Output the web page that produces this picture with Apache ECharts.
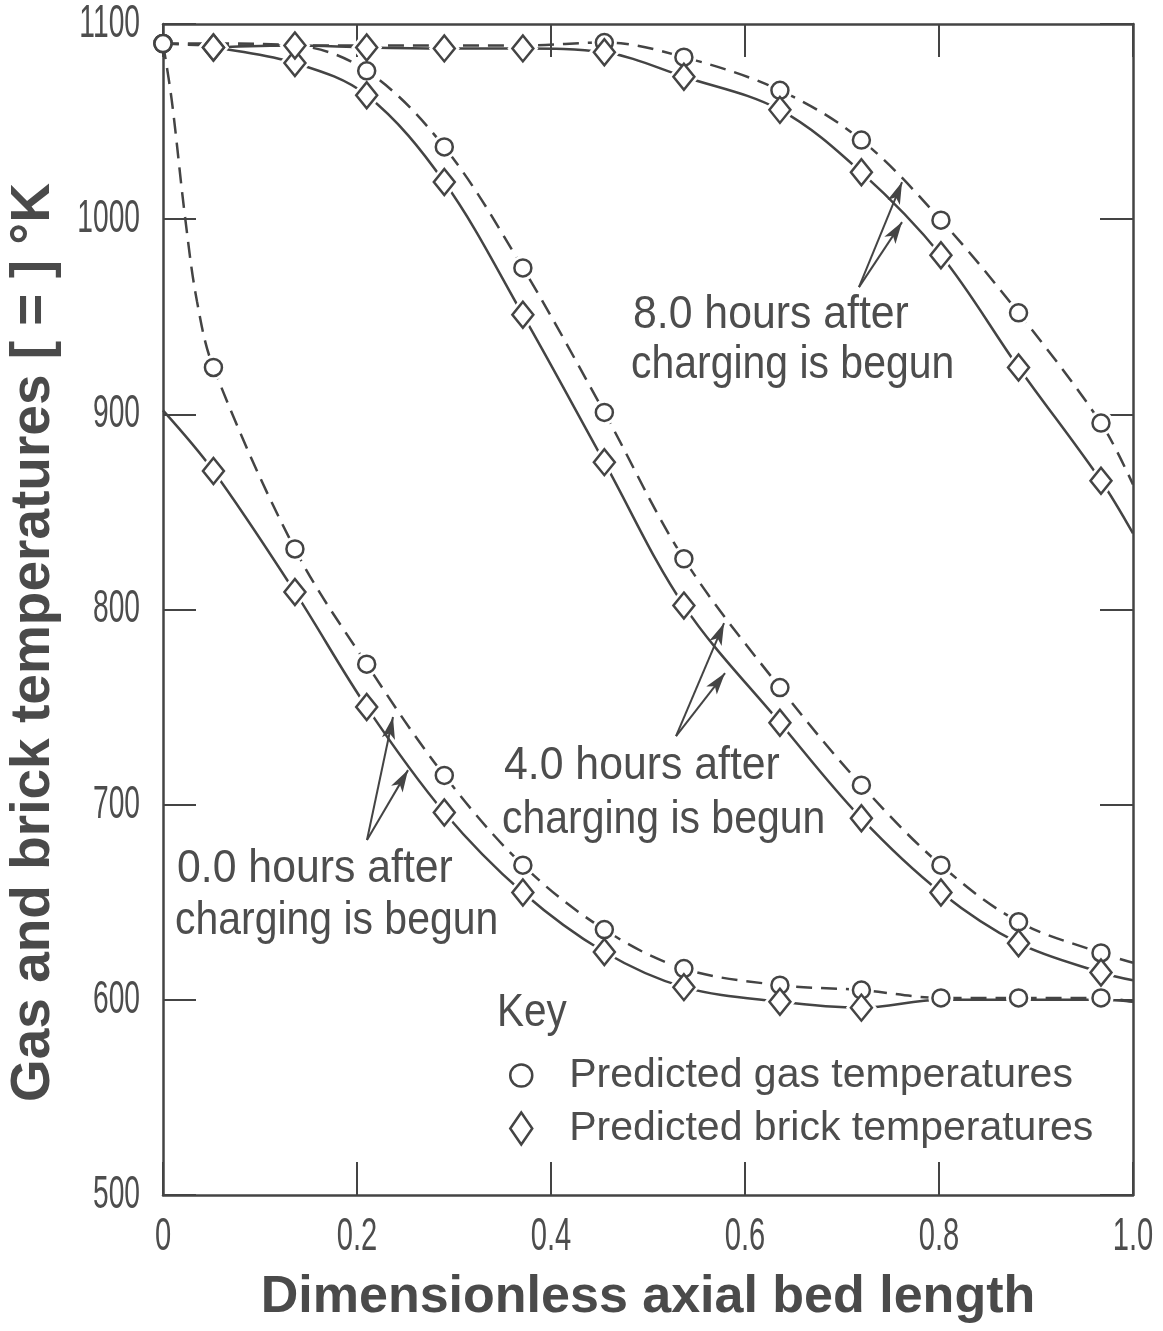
<!DOCTYPE html>
<html>
<head>
<meta charset="utf-8">
<title>Gas and brick temperatures along the bed</title>
<script src="https://cdn.jsdelivr.net/npm/echarts@6/dist/echarts.min.js"></script>
<style>
  html, body { margin: 0; padding: 0; background: #fff; }
  #chart { width: 1163px; height: 1331px; }
</style>
</head>
<body>
<div id="chart"></div>
<script>
// Axial stations along the bed (dimensionless length) where temperatures were predicted
const stations = [0, 0.052, 0.136, 0.210, 0.290, 0.371, 0.455, 0.537, 0.636, 0.720, 0.802, 0.882, 0.967];

// Predicted gas temperatures (K) at the stations
const gas0h = [1090, 924, 831, 772, 715, 669, 636, 616, 607.5, 605, 601, 601, 601];
const gas4h = [1090, 1090, 1089, 1076, 1037, 975, 901, 826, 760, 710, 669, 640, 624];
const gas8h = [1090, 1089, 1089, 1089, 1089, 1089, 1090.5, 1083, 1066, 1040.5, 999.5, 952, 895.5];

// Predicted brick temperatures (K) at the stations (null: no value there)
const brick0h = [902, 871, 809, 750, 696, 655, 624.5, 606.5, 599, 596, 600, 600, 600];
const brick4h = [null, 1088, 1080, 1063.5, 1019, 951, 875.5, 802, 742, 693, 655, 629, 614];
const brick8h = [null, 1088, 1089, 1088, 1087.5, 1087.5, 1085.5, 1073, 1056, 1024, 981.5, 924, 866];

// Temperatures where each curve leaves the bed (x = 1.0), for 0, 4 and 8 hours
const outletGas = [599, 619, 864];
const outletBrick = [599, 610, 839];

// Extra readings of the 0 h gas curve right at the inlet
const inletX = [0.009, 0.023, 0.035];
const inletGas0h = [1061, 1000, 958];

// Tick labels
const xTickLabels = ['0', '0.2', '0.4', '0.6', '0.8', '1.0'];
const yTickLabels = ['500', '600', '700', '800', '900', '1000', '1100'];

// Curve captions
const captionLine1 = ['0.0 hours after', '4.0 hours after', '8.0 hours after'];
const captionLine2 = 'charging is begun';

const GAS_NAME = 'Predicted gas temperatures';
const BRICK_NAME = 'Predicted brick temperatures';

const SANS = "'Liberation Sans', Arial, sans-serif";
const INK = '#444';
const TEXT_INK = '#4d4d4d';
const TITLE_INK = '#4a4a4a';

// Per-curve drawing setup: stations whose symbol sits under a coincident symbol,
// caption placement (px) and arrow tail / tips in data coordinates
const curves = [
  { gas: gas0h, brick: brick0h, hideGas: [], hideBrick: [0, 10, 11, 12],
    caption: { x: 177, y: 869, y2: 921 },
    tail: [0.2103, 681.9], heads: [[0.2371, 744.9], [0.2526, 717.7]] },
  { gas: gas4h, brick: brick4h, hideGas: [1, 2], hideBrick: [],
    caption: { x: 504, y: 766, y2: 820 },
    tail: [0.5289, 735.1], heads: [[0.5784, 793.0], [0.5794, 767.4]] },
  { gas: gas8h, brick: brick8h, hideGas: [1, 2, 3, 4, 5], hideBrick: [],
    caption: { x: 633, y: 315, y2: 365 },
    tail: [0.7175, 965.2], heads: [[0.7619, 1019.0], [0.7619, 998.5]] }
];

function pairs(xs, ys, skip) {
  const out = [];
  xs.forEach((x, i) => {
    if (ys[i] == null) return;
    if (skip && skip.indexOf(i) >= 0) return;
    out.push([x, ys[i]]);
  });
  return out;
}

const CIRCLE = 17;
const DIAMOND = [21, 26];

const curveSeries = [];
const haloSeries = [];
const markerSeries = [];

curves.forEach((c, i) => {
  let gasLine = pairs(stations, c.gas);
  if (i === 0) gasLine = gasLine.concat(pairs(inletX, inletGas0h)).sort((a, b) => a[0] - b[0]);
  gasLine.push([1, outletGas[i]]);
  const brickLine = pairs(stations, c.brick);
  brickLine.push([1, outletBrick[i]]);

  curveSeries.push({
    type: 'line', name: 'gas curve ' + i, data: gasLine,
    symbol: 'none', smooth: 0.35, silent: true, z: 2,
    lineStyle: { color: INK, width: 2.5, type: [16, 9] },
    markLine: {
      silent: true, animation: false,
      symbol: ['none', 'arrow'],
      label: { show: false },
      emphasis: { disabled: true },
      lineStyle: { color: INK, width: 2, type: 'solid' },
      data: c.heads.map(h => [
        { coord: c.tail, symbol: 'none' },
        { coord: h, symbol: 'arrow', symbolSize: [10, 22] }
      ])
    }
  });
  curveSeries.push({
    type: 'line', name: 'brick curve ' + i, data: brickLine,
    symbol: 'none', smooth: 0.35, silent: true, z: 2,
    lineStyle: { color: INK, width: 2.5, type: 'solid' }
  });

  const gasPts = pairs(stations, c.gas, c.hideGas);
  const brickPts = pairs(stations, c.brick, c.hideBrick);

  // white backing that opens a small gap where the curves meet a symbol
  haloSeries.push({
    type: 'scatter', name: 'gas gap ' + i, silent: true, z: 3,
    data: gasPts.filter(p => p[0] > 0),
    symbol: 'circle', symbolSize: CIRCLE + 8,
    itemStyle: { color: '#fff', borderWidth: 0, opacity: 1 }
  });
  haloSeries.push({
    type: 'scatter', name: 'brick gap ' + i, silent: true, z: 3,
    data: brickPts.filter(p => p[0] > 0),
    symbol: 'diamond', symbolSize: [DIAMOND[0] + 10, DIAMOND[1] + 12],
    itemStyle: { color: '#fff', borderWidth: 0, opacity: 1 }
  });

  markerSeries.push({
    type: 'scatter', name: GAS_NAME, silent: true, z: 4,
    data: gasPts, symbol: 'circle', symbolSize: CIRCLE,
    itemStyle: { color: '#fff', borderColor: INK, borderWidth: 2.5, opacity: 1 }
  });
  markerSeries.push({
    type: 'scatter', name: BRICK_NAME, silent: true, z: 5,
    data: brickPts, symbol: 'diamond', symbolSize: DIAMOND,
    itemStyle: { color: '#fff', borderColor: INK, borderWidth: 2.5, opacity: 1 }
  });
});

const tickLine = { color: INK, width: 2 };
const axisLine = { show: true, onZero: false, lineStyle: { color: INK, width: 2.5 } };

const option = {
  backgroundColor: '#fff',
  animation: false,
  grid: { left: 163, right: 30, top: 24, bottom: 136, containLabel: false, outerBoundsMode: 'none' },
  legend: {
    data: [{ name: GAS_NAME, icon: 'circle' }, { name: BRICK_NAME, icon: 'diamond' }],
    orient: 'vertical', left: 509, top: 1055, padding: 0,
    itemWidth: 22, itemHeight: 32, itemGap: 12,
    selectedMode: false,
    itemStyle: { color: '#fff', borderColor: INK, borderWidth: 2.5 },
    textStyle: { fontFamily: SANS, fontSize: 41, color: TEXT_INK, padding: [0, 0, 0, 32] }
  },
  xAxis: [
    {
      type: 'value', position: 'bottom', min: 0, max: 1, interval: 0.2,
      axisLine: axisLine,
      axisTick: { show: true, inside: true, length: 33, lineStyle: tickLine },
      splitLine: { show: false },
      axisLabel: { show: false },
      name: 'Dimensionless axial bed length', nameLocation: 'middle', nameGap: 77,
      nameMoveOverlap: false,
      nameTextStyle: { fontFamily: SANS, fontWeight: 'bold', fontSize: 52, color: TITLE_INK }
    },
    {
      type: 'value', position: 'top', min: 0, max: 1, interval: 0.2,
      axisLine: axisLine,
      axisTick: { show: true, inside: true, length: 33, lineStyle: tickLine },
      splitLine: { show: false }, axisLabel: { show: false }
    }
  ],
  yAxis: [
    {
      type: 'value', position: 'left', min: 500, max: 1100, interval: 100,
      axisLine: axisLine,
      axisTick: { show: true, inside: true, length: 33, lineStyle: tickLine },
      splitLine: { show: false },
      axisLabel: { show: false },
      name: 'Gas and brick temperatures [ = ] °K', nameLocation: 'middle', nameRotate: 90, nameGap: 102,
      nameMoveOverlap: false,
      nameTextStyle: { fontFamily: SANS, fontWeight: 'bold', fontSize: 55, color: TITLE_INK, padding: [0, 66, 0, 0] }
    },
    {
      type: 'value', position: 'right', min: 500, max: 1100, interval: 100,
      axisLine: axisLine,
      axisTick: { show: true, inside: true, length: 33, lineStyle: tickLine },
      splitLine: { show: false }, axisLabel: { show: false }
    }
  ],
  series: curveSeries.concat(haloSeries, markerSeries)
};

const chart = echarts.init(document.getElementById('chart'), null, { renderer: 'canvas' });
chart.setOption(option);

// Narrow lettering: regular sans squeezed horizontally
function narrowText(text, x, y, size, squeeze, align) {
  return {
    type: 'text', silent: true, z: 10, x: x, y: y, scaleX: squeeze, scaleY: 1,
    style: {
      text: text, x: 0, y: 0, font: size + 'px ' + SANS, fill: TEXT_INK,
      align: align, verticalAlign: 'middle', textAlign: align, textVerticalAlign: 'middle'
    }
  };
}

const graphics = [];

// tick labels placed through the axes' own scales
const xLeft = chart.convertToPixel({ xAxisIndex: 0 }, 0);
const yBottom = chart.convertToPixel({ yAxisIndex: 0 }, 500);
xTickLabels.forEach((t, i) => {
  const px = chart.convertToPixel({ xAxisIndex: 0 }, i * 0.2);
  graphics.push(narrowText(t, px, yBottom + 42, 47, 0.62, 'center'));
});
yTickLabels.forEach((t, i) => {
  const py = chart.convertToPixel({ yAxisIndex: 0 }, 500 + i * 100);
  graphics.push(narrowText(t, xLeft - 23, py, 47, 0.6, 'right'));
});

// curve captions
curves.forEach((c, i) => {
  graphics.push(narrowText(captionLine1[i], c.caption.x, c.caption.y, 46, 0.93, 'left'));
  graphics.push(narrowText(captionLine2, c.caption.x - 2, c.caption.y2, 46, 0.89, 'left'));
});

// heading of the symbol key
graphics.push(narrowText('Key', 497, 1013, 46, 0.88, 'left'));

chart.setOption({ graphic: { elements: graphics } });
</script>
</body>
</html>
